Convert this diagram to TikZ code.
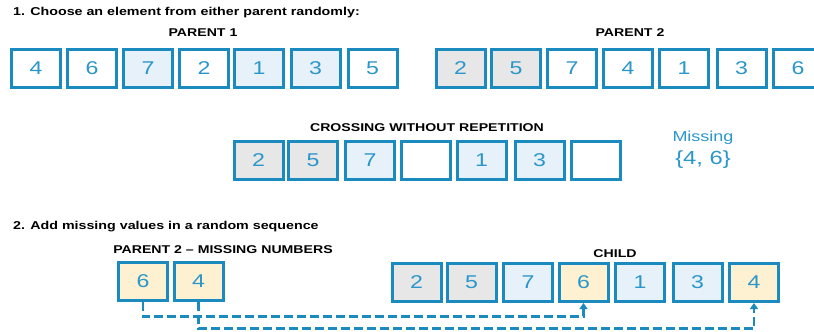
\documentclass[tikz,border=0pt]{standalone}
\usepackage{fontspec}
\setmainfont{Liberation Sans}[FakeStretch=1.25]
\usetikzlibrary{arrows.meta}
\definecolor{bord}{HTML}{1A8ABF}
\definecolor{txt}{HTML}{2A96CA}
\definecolor{lb}{HTML}{E6F1F9}
\definecolor{gr}{HTML}{E7E7E7}
\definecolor{ye}{HTML}{FDF1D1}
\tikzset{
  cell/.style={draw=bord, line width=3pt, minimum width=49pt, minimum height=38pt, inner sep=0pt,
    text=txt, font=\fontsize{18.5}{18}\selectfont, fill=white},
  lbc/.style={cell, fill=lb},
  grc/.style={cell, fill=gr},
  yec/.style={cell, fill=ye},
  head/.style={font=\fontsize{11.3}{12}\selectfont\bfseries, text=black, inner sep=0pt},
  ttl/.style={font=\fontsize{11.4}{12}\selectfont\bfseries, text=black, inner sep=0pt, anchor=west},
  link/.style={draw=bord, line width=2.5pt, dash pattern=on 9pt off 4pt, -{Triangle[width=8pt,length=6pt]}}
}
\begin{document}
\begin{tikzpicture}[x=1pt,y=-1pt]
\useasboundingbox (0,0) rectangle (814,332);
\clip (0,0) rectangle (814,332);
% Section 1
\node[ttl] (t1) at (13,13) {1. Choose an element from either parent randomly:};
\node[head] (h1) at (203,33) {PARENT 1};
\node[head] (h2) at (630,33) {PARENT 2};
% parent 1
\node[cell] (a1) at (36,68.5) {4};
\node[cell] (a2) at (92,68.5) {6};
\node[lbc]  (a3) at (148,68.5) {7};
\node[cell] (a4) at (204,68.5) {2};
\node[lbc]  (a5) at (259,68.5) {1};
\node[lbc]  (a6) at (315.5,68.5) {3};
\node[cell] (a7) at (372.5,68.5) {5};
% parent 2
\node[grc]  (b1) at (460.5,68.5) {2};
\node[grc]  (b2) at (516,68.5) {5};
\node[cell] (b3) at (572,68.5) {7};
\node[cell] (b4) at (628,68.5) {4};
\node[cell] (b5) at (684,68.5) {1};
\node[cell] (b6) at (741.5,68.5) {3};
\node[cell] (b7) at (798,68.5) {6};
% crossing
\node[head] (h3) at (427,128) {CROSSING WITHOUT REPETITION};
\node[grc]  (x1) at (258.5,160) {2};
\node[grc]  (x2) at (313,160) {5};
\node[lbc]  (x3) at (370,160) {7};
\node[cell] (x4) at (425.5,160) {};
\node[lbc]  (x5) at (481.5,160) {1};
\node[lbc]  (x6) at (539.5,160) {3};
\node[cell] (x7) at (596,160) {};
\node[text=txt, font=\fontsize{14.4}{15}\selectfont, inner sep=0pt] (ms) at (703,137.5) {Missing};
\node[text=txt, font=\fontsize{19}{19}\selectfont, inner sep=0pt] (mv) at (703,160) {\{4, 6\}};
% Section 2
\node[ttl] (t2) at (13,227) {2. Add missing values in a random sequence};
\node[head] (h4) at (223,250) {PARENT 2 -- MISSING NUMBERS};
\node[yec] (m6) at (143,281) {6};
\node[yec] (m4) at (198.5,281) {4};
\node[head] (h5) at (615,254) {CHILD};
\node[grc]  (c1) at (416.5,282.5) {2};
\node[grc]  (c2) at (471.5,282.5) {5};
\node[lbc]  (c3) at (528,282.5) {7};
\node[yec]  (c4) at (583.5,282.5) {6};
\node[lbc]  (c5) at (640,282.5) {1};
\node[lbc]  (c6) at (697.5,282.5) {3};
\node[yec]  (c7) at (754,282.5) {4};
% links
\draw[link] (m6.south) -- ++(0,15) -| (c4.south);
\draw[link] (m4.south) -- ++(0,27) -| (c7.south);
\end{tikzpicture}
\end{document}
